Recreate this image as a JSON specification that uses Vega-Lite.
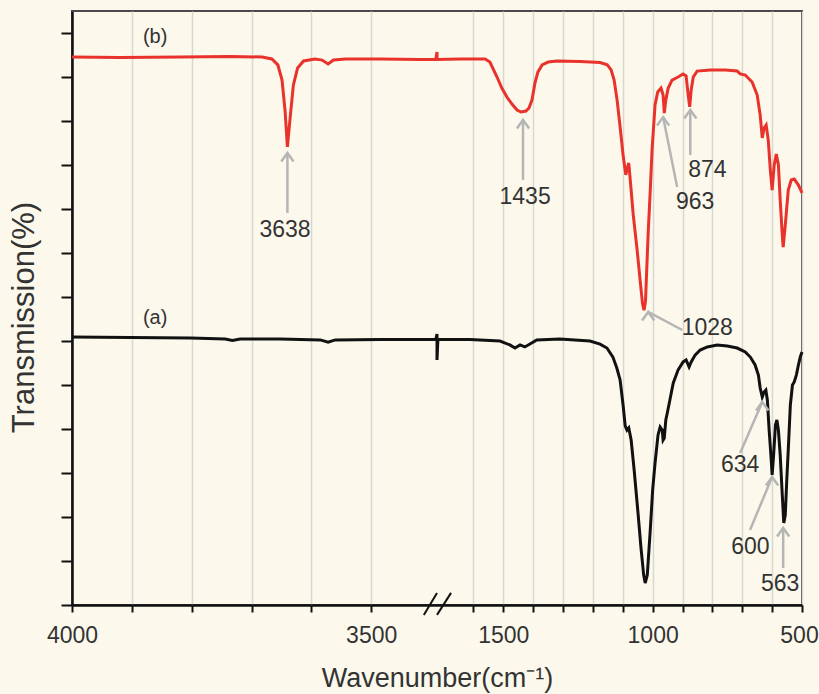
{
  "$schema": "https://vega.github.io/schema/vega-lite/v6.json",
  "width": 730,
  "height": 594,
  "autosize": {"type": "none"},
  "padding": {"left": 72, "top": 11, "right": 17, "bottom": 89},
  "background": "#FCF9EC",
  "config": {
    "view": {"stroke": "#4a4a4a", "strokeWidth": 2},
    "font": "Liberation Sans"
  },
  "datasets": {
    "spectra": [
      {"wn": 4000, "t": 24.91, "s": "(b)"}, {"wn": 3920, "t": 24.89, "s": "(b)"}, {"wn": 3819, "t": 24.91, "s": "(b)"},
      {"wn": 3736, "t": 24.93, "s": "(b)"}, {"wn": 3682, "t": 24.91, "s": "(b)"}, {"wn": 3666, "t": 24.82, "s": "(b)"},
      {"wn": 3656, "t": 24.55, "s": "(b)"}, {"wn": 3649, "t": 23.86, "s": "(b)"}, {"wn": 3644, "t": 22.5, "s": "(b)"},
      {"wn": 3640, "t": 20.82, "s": "(b)"}, {"wn": 3635, "t": 22.27, "s": "(b)"}, {"wn": 3630, "t": 23.64, "s": "(b)"},
      {"wn": 3623, "t": 24.41, "s": "(b)"}, {"wn": 3613, "t": 24.73, "s": "(b)"}, {"wn": 3594, "t": 24.82, "s": "(b)"},
      {"wn": 3582, "t": 24.77, "s": "(b)"}, {"wn": 3572, "t": 24.59, "s": "(b)"}, {"wn": 3563, "t": 24.77, "s": "(b)"},
      {"wn": 3543, "t": 24.82, "s": "(b)"}, {"wn": 3485, "t": 24.82, "s": "(b)"}, {"wn": 3418, "t": 24.8, "s": "(b)"},
      {"wn": 3392, "t": 24.8, "s": "(b)"}, {"wn": 3390, "t": 25.14, "s": "(b)"}, {"wn": 1722, "t": 24.8, "s": "(b)"},
      {"wn": 1645, "t": 24.82, "s": "(b)"}, {"wn": 1561, "t": 24.82, "s": "(b)"}, {"wn": 1545, "t": 24.68, "s": "(b)"},
      {"wn": 1521, "t": 24.0, "s": "(b)"}, {"wn": 1505, "t": 23.5, "s": "(b)"}, {"wn": 1488, "t": 23.09, "s": "(b)"},
      {"wn": 1471, "t": 22.77, "s": "(b)"}, {"wn": 1454, "t": 22.5, "s": "(b)"}, {"wn": 1441, "t": 22.41, "s": "(b)"},
      {"wn": 1424, "t": 22.45, "s": "(b)"}, {"wn": 1414, "t": 22.59, "s": "(b)"}, {"wn": 1404, "t": 22.95, "s": "(b)"},
      {"wn": 1394, "t": 23.73, "s": "(b)"}, {"wn": 1384, "t": 24.23, "s": "(b)"}, {"wn": 1370, "t": 24.55, "s": "(b)"},
      {"wn": 1350, "t": 24.68, "s": "(b)"}, {"wn": 1320, "t": 24.73, "s": "(b)"}, {"wn": 1243, "t": 24.7, "s": "(b)"},
      {"wn": 1176, "t": 24.66, "s": "(b)"}, {"wn": 1152, "t": 24.55, "s": "(b)"}, {"wn": 1139, "t": 24.32, "s": "(b)"},
      {"wn": 1129, "t": 23.86, "s": "(b)"}, {"wn": 1119, "t": 22.95, "s": "(b)"}, {"wn": 1109, "t": 21.73, "s": "(b)"},
      {"wn": 1099, "t": 20.45, "s": "(b)"}, {"wn": 1090, "t": 19.55, "s": "(b)"}, {"wn": 1085, "t": 19.86, "s": "(b)"},
      {"wn": 1080, "t": 20.09, "s": "(b)"}, {"wn": 1075, "t": 19.32, "s": "(b)"}, {"wn": 1065, "t": 17.73, "s": "(b)"},
      {"wn": 1052, "t": 16.14, "s": "(b)"}, {"wn": 1042, "t": 14.77, "s": "(b)"}, {"wn": 1034, "t": 13.7, "s": "(b)"},
      {"wn": 1029, "t": 13.4, "s": "(b)"}, {"wn": 1024, "t": 13.8, "s": "(b)"}, {"wn": 1015, "t": 16.91, "s": "(b)"},
      {"wn": 1008, "t": 18.86, "s": "(b)"}, {"wn": 1002, "t": 20.68, "s": "(b)"}, {"wn": 992, "t": 22.73, "s": "(b)"},
      {"wn": 983, "t": 23.32, "s": "(b)"}, {"wn": 972, "t": 23.5, "s": "(b)"}, {"wn": 965, "t": 23.18, "s": "(b)"},
      {"wn": 961, "t": 22.36, "s": "(b)"}, {"wn": 956, "t": 22.95, "s": "(b)"}, {"wn": 948, "t": 23.5, "s": "(b)"},
      {"wn": 935, "t": 23.86, "s": "(b)"}, {"wn": 915, "t": 24.0, "s": "(b)"}, {"wn": 898, "t": 24.14, "s": "(b)"},
      {"wn": 888, "t": 24.05, "s": "(b)"}, {"wn": 881, "t": 23.18, "s": "(b)"}, {"wn": 876, "t": 22.64, "s": "(b)"},
      {"wn": 871, "t": 23.41, "s": "(b)"}, {"wn": 864, "t": 24.0, "s": "(b)"}, {"wn": 851, "t": 24.27, "s": "(b)"},
      {"wn": 807, "t": 24.32, "s": "(b)"}, {"wn": 757, "t": 24.32, "s": "(b)"}, {"wn": 717, "t": 24.27, "s": "(b)"},
      {"wn": 707, "t": 24.14, "s": "(b)"}, {"wn": 690, "t": 24.09, "s": "(b)"}, {"wn": 667, "t": 23.77, "s": "(b)"},
      {"wn": 650, "t": 23.18, "s": "(b)"}, {"wn": 640, "t": 22.27, "s": "(b)"}, {"wn": 633, "t": 21.23, "s": "(b)"},
      {"wn": 627, "t": 21.68, "s": "(b)"}, {"wn": 620, "t": 21.82, "s": "(b)"}, {"wn": 613, "t": 21.14, "s": "(b)"},
      {"wn": 606, "t": 19.77, "s": "(b)"}, {"wn": 600, "t": 18.86, "s": "(b)"}, {"wn": 593, "t": 20.0, "s": "(b)"},
      {"wn": 586, "t": 20.5, "s": "(b)"}, {"wn": 579, "t": 20.0, "s": "(b)"}, {"wn": 573, "t": 18.41, "s": "(b)"},
      {"wn": 566, "t": 16.82, "s": "(b)"}, {"wn": 563, "t": 16.27, "s": "(b)"}, {"wn": 556, "t": 17.27, "s": "(b)"},
      {"wn": 546, "t": 18.86, "s": "(b)"}, {"wn": 536, "t": 19.32, "s": "(b)"}, {"wn": 526, "t": 19.36, "s": "(b)"},
      {"wn": 512, "t": 19.09, "s": "(b)"}, {"wn": 500, "t": 18.73, "s": "(b)"},

      {"wn": 4000, "t": 12.18, "s": "(a)"}, {"wn": 3903, "t": 12.16, "s": "(a)"}, {"wn": 3802, "t": 12.14, "s": "(a)"},
      {"wn": 3744, "t": 12.09, "s": "(a)"}, {"wn": 3732, "t": 12.02, "s": "(a)"}, {"wn": 3719, "t": 12.09, "s": "(a)"},
      {"wn": 3652, "t": 12.09, "s": "(a)"}, {"wn": 3585, "t": 12.05, "s": "(a)"}, {"wn": 3572, "t": 11.95, "s": "(a)"},
      {"wn": 3560, "t": 12.05, "s": "(a)"}, {"wn": 3485, "t": 12.07, "s": "(a)"}, {"wn": 3418, "t": 12.07, "s": "(a)"},
      {"wn": 3392, "t": 12.07, "s": "(a)"}, {"wn": 3390, "t": 12.32, "s": "(a)"}, {"wn": 1722, "t": 11.14, "s": "(a)"},
      {"wn": 1719, "t": 12.07, "s": "(a)"}, {"wn": 1612, "t": 12.07, "s": "(a)"}, {"wn": 1511, "t": 12.0, "s": "(a)"},
      {"wn": 1478, "t": 11.82, "s": "(a)"}, {"wn": 1461, "t": 11.68, "s": "(a)"}, {"wn": 1444, "t": 11.82, "s": "(a)"},
      {"wn": 1428, "t": 11.73, "s": "(a)"}, {"wn": 1411, "t": 11.86, "s": "(a)"}, {"wn": 1388, "t": 12.05, "s": "(a)"},
      {"wn": 1311, "t": 12.09, "s": "(a)"}, {"wn": 1210, "t": 12.0, "s": "(a)"}, {"wn": 1176, "t": 11.86, "s": "(a)"},
      {"wn": 1153, "t": 11.68, "s": "(a)"}, {"wn": 1133, "t": 11.27, "s": "(a)"}, {"wn": 1120, "t": 10.77, "s": "(a)"},
      {"wn": 1109, "t": 10.23, "s": "(a)"}, {"wn": 1099, "t": 9.09, "s": "(a)"}, {"wn": 1092, "t": 8.14, "s": "(a)"},
      {"wn": 1086, "t": 7.95, "s": "(a)"}, {"wn": 1080, "t": 8.05, "s": "(a)"}, {"wn": 1072, "t": 7.5, "s": "(a)"},
      {"wn": 1062, "t": 6.14, "s": "(a)"}, {"wn": 1049, "t": 4.18, "s": "(a)"}, {"wn": 1039, "t": 2.59, "s": "(a)"},
      {"wn": 1030, "t": 1.36, "s": "(a)"}, {"wn": 1025, "t": 1.0, "s": "(a)"}, {"wn": 1018, "t": 1.36, "s": "(a)"},
      {"wn": 1008, "t": 3.41, "s": "(a)"}, {"wn": 1000, "t": 5.23, "s": "(a)"}, {"wn": 992, "t": 6.45, "s": "(a)"},
      {"wn": 982, "t": 7.73, "s": "(a)"}, {"wn": 975, "t": 8.09, "s": "(a)"}, {"wn": 968, "t": 7.95, "s": "(a)"},
      {"wn": 965, "t": 7.5, "s": "(a)"}, {"wn": 961, "t": 7.59, "s": "(a)"}, {"wn": 956, "t": 8.41, "s": "(a)"},
      {"wn": 951, "t": 8.73, "s": "(a)"}, {"wn": 941, "t": 9.41, "s": "(a)"}, {"wn": 931, "t": 10.09, "s": "(a)"},
      {"wn": 915, "t": 10.68, "s": "(a)"}, {"wn": 898, "t": 11.05, "s": "(a)"}, {"wn": 888, "t": 11.14, "s": "(a)"},
      {"wn": 878, "t": 10.82, "s": "(a)"}, {"wn": 871, "t": 11.05, "s": "(a)"}, {"wn": 858, "t": 11.36, "s": "(a)"},
      {"wn": 841, "t": 11.59, "s": "(a)"}, {"wn": 817, "t": 11.73, "s": "(a)"}, {"wn": 784, "t": 11.82, "s": "(a)"},
      {"wn": 750, "t": 11.77, "s": "(a)"}, {"wn": 717, "t": 11.68, "s": "(a)"}, {"wn": 690, "t": 11.5, "s": "(a)"},
      {"wn": 673, "t": 11.27, "s": "(a)"}, {"wn": 657, "t": 10.91, "s": "(a)"}, {"wn": 646, "t": 10.45, "s": "(a)"},
      {"wn": 640, "t": 9.86, "s": "(a)"}, {"wn": 633, "t": 9.45, "s": "(a)"}, {"wn": 627, "t": 9.68, "s": "(a)"},
      {"wn": 621, "t": 9.77, "s": "(a)"}, {"wn": 616, "t": 9.32, "s": "(a)"}, {"wn": 610, "t": 7.95, "s": "(a)"},
      {"wn": 603, "t": 6.59, "s": "(a)"}, {"wn": 600, "t": 5.91, "s": "(a)"}, {"wn": 595, "t": 6.82, "s": "(a)"},
      {"wn": 589, "t": 8.18, "s": "(a)"}, {"wn": 584, "t": 8.41, "s": "(a)"}, {"wn": 579, "t": 7.95, "s": "(a)"},
      {"wn": 573, "t": 6.82, "s": "(a)"}, {"wn": 566, "t": 5.0, "s": "(a)"}, {"wn": 561, "t": 3.73, "s": "(a)"},
      {"wn": 556, "t": 4.09, "s": "(a)"}, {"wn": 551, "t": 5.68, "s": "(a)"}, {"wn": 546, "t": 7.05, "s": "(a)"},
      {"wn": 539, "t": 9.09, "s": "(a)"}, {"wn": 532, "t": 10.0, "s": "(a)"}, {"wn": 526, "t": 10.14, "s": "(a)"},
      {"wn": 519, "t": 10.45, "s": "(a)"}, {"wn": 512, "t": 10.91, "s": "(a)"}, {"wn": 506, "t": 11.27, "s": "(a)"},
      {"wn": 500, "t": 11.5, "s": "(a)"}
    ],
    "arrows": [
      {"label": "3638", "wn": 3640, "t": 20.55, "wn2": 3640, "t2": 17.82},
      {"label": "1435", "wn": 1434, "t": 22.05, "wn2": 1434, "t2": 19.32},
      {"label": "874", "wn": 874, "t": 22.5, "wn2": 874, "t2": 20.45},
      {"label": "963", "wn": 965, "t": 22.18, "wn2": 918, "t2": 19.0},
      {"label": "1028", "wn": 1015, "t": 13.32, "wn2": 901, "t2": 12.5},
      {"label": "634", "wn": 633, "t": 9.23, "wn2": 707, "t2": 6.91},
      {"label": "600", "wn": 600, "t": 5.82, "wn2": 674, "t2": 3.41},
      {"label": "563", "wn": 563, "t": 3.5, "wn2": 563, "t2": 1.68}
    ],
    "peaks": [
      {"label": "3638", "wn": 3644, "t": 17.05},
      {"label": "1435", "wn": 1427, "t": 18.55},
      {"label": "963", "wn": 858, "t": 18.32},
      {"label": "874", "wn": 817, "t": 19.77},
      {"label": "1028", "wn": 817, "t": 12.59},
      {"label": "634", "wn": 707, "t": 6.36},
      {"label": "600", "wn": 673, "t": 2.64},
      {"label": "563", "wn": 573, "t": 0.95}
    ],
    "series": [
      {"label": "(b)", "wn": 3861, "t": 25.84},
      {"label": "(a)", "wn": 3861, "t": 13.05}
    ],
    "breaks": [
      {"wn": 3412, "t": -0.45, "wn2": 3390, "t2": 0.55},
      {"wn": 1722, "t": -0.45, "wn2": 1675, "t2": 0.55}
    ]
  },
  "layer": [
    {
      "data": {"name": "spectra"},
      "mark": {"type": "line", "strokeWidth": 3, "interpolate": "linear"},
      "encoding": {
        "x": {
          "field": "wn", "type": "quantitative",
          "scale": {"domain": [4000, 3390, 1722, 500], "range": [0, 365, 365, 730], "nice": false, "zero": false},
          "axis": {
            "values": [4000, 3900, 3800, 3700, 3600, 3500, 1600, 1500, 1400, 1300, 1200, 1100, 1000, 900, 800, 700, 600, 500],
            "labelExpr": "(datum.value == 4000 || datum.value == 3500 || datum.value == 1500 || datum.value == 1000 || datum.value == 500) ? (datum.value + '') : ''",
            "labelFlush": false, "labelOverlap": false, "labelBound": false,
            "labelFont": "Liberation Sans", "labelFontSize": 23, "labelColor": "#333333",
            "labelBaseline": "alphabetic", "labelPadding": 30,
            "labelOffset": {"condition": {"test": "datum.value == 500", "value": -3}, "value": 0},
            "grid": true, "gridColor": "#D8D8D0", "gridWidth": 1.5,
            "tickSize": 7, "tickWidth": 2, "tickColor": "#111111",
            "domainColor": "#111111", "domainWidth": 2.5,
            "title": "Wavenumber(cm⁻¹)", "titleFont": "Liberation Sans", "titleFontSize": 27,
            "titleFontWeight": "normal", "titleColor": "#333333", "titleBaseline": "alphabetic",
            "titleAnchor": "middle", "titleX": 365, "titleY": 81
          }
        },
        "y": {
          "field": "t", "type": "quantitative",
          "scale": {"domain": [0, 27], "nice": false, "zero": false},
          "axis": {
            "values": [0, 1, 2, 3, 4, 5, 6, 7, 8, 9, 10, 11, 12, 13, 14, 15, 16, 17, 18, 19, 20, 21, 22, 23, 24, 25, 26],
            "labels": false, "grid": false,
            "tickSize": {"condition": {"test": "datum.value % 2 === 0", "value": 11}, "value": 6},
            "tickWidth": 2, "tickColor": "#111111",
            "domainColor": "#111111", "domainWidth": 2.5,
            "title": "Transmission(%)", "titleFont": "Liberation Sans", "titleFontSize": 31,
            "titleFontWeight": "normal", "titleColor": "#333333", "titleBaseline": "alphabetic",
            "titleAngle": 270, "titleAlign": "center", "titleX": -39, "titleY": 306
          }
        },
        "color": {
          "field": "s", "type": "nominal",
          "scale": {"domain": ["(a)", "(b)"], "range": ["#111111", "#E8322B"]},
          "legend": null
        },
        "detail": {"field": "s"}
      }
    },
    {
      "data": {"name": "breaks"},
      "mark": {"type": "rule", "color": "#111111", "strokeWidth": 2},
      "encoding": {
        "x": {"field": "wn", "type": "quantitative"},
        "y": {"field": "t", "type": "quantitative"},
        "x2": {"field": "wn2"},
        "y2": {"field": "t2"}
      }
    },
    {
      "data": {"name": "arrows"},
      "mark": {"type": "rule", "color": "#B5B5B5", "strokeWidth": 2.5},
      "encoding": {
        "x": {"field": "wn", "type": "quantitative"},
        "y": {"field": "t", "type": "quantitative"},
        "x2": {"field": "wn2"},
        "y2": {"field": "t2"}
      }
    },
    {
      "data": {"name": "arrows"},
      "mark": {"type": "point", "shape": "M-1,1.4L0,0L1,1.4", "filled": false, "color": "#B5B5B5", "strokeWidth": 2.5, "size": 150, "opacity": 1},
      "encoding": {
        "x": {"field": "wn", "type": "quantitative"},
        "y": {"field": "t", "type": "quantitative"},
        "angle": {
          "field": "label", "type": "nominal",
          "scale": {"domain": ["3638", "1435", "874", "963", "1028", "634", "600", "563"], "range": [0, 0, 0, 349, 298, 23, 22, 0]},
          "legend": null
        }
      }
    },
    {
      "data": {"name": "peaks"},
      "mark": {"type": "text", "font": "Liberation Sans", "fontSize": 23, "color": "#333333", "align": "center", "baseline": "middle"},
      "encoding": {
        "x": {"field": "wn", "type": "quantitative"},
        "y": {"field": "t", "type": "quantitative"},
        "text": {"field": "label"}
      }
    },
    {
      "data": {"name": "series"},
      "mark": {"type": "text", "font": "Liberation Sans", "fontSize": 20, "color": "#333333", "align": "center", "baseline": "middle"},
      "encoding": {
        "x": {"field": "wn", "type": "quantitative"},
        "y": {"field": "t", "type": "quantitative"},
        "text": {"field": "label"}
      }
    }
  ]
}
